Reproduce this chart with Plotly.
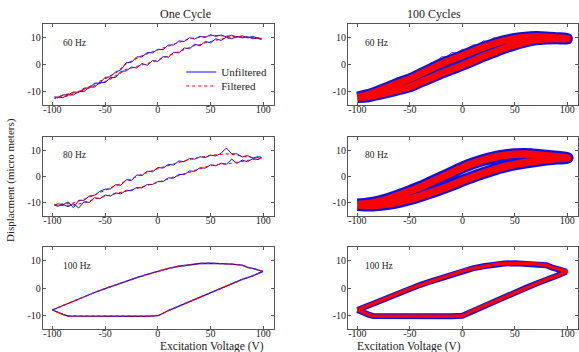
import plotly.graph_objects as go

# ---------------- data ----------------
X_GRID = [-98, -95, -90, -85, -80, -75, -70, -65, -60, -55, -50, -45, -40, -35, -30, -25, -20, -15, -10, -5,
          0, 5, 10, 15, 20, 25, 30, 35, 40, 45, 50, 55, 60, 65, 70, 75, 80, 85, 90, 95, 98]

# 60 Hz, one cycle
hz60_up_filt = [-12.3, -12.0, -11.6, -11.0, -10.6, -10.0, -9.2, -8.3, -7.3, -6.3, -5.3, -4.2, -3.2, -1.6, 0.3, 1.2,
                2.3, 3.2, 4.0, 4.7, 5.3, 6.0, 6.8, 7.6, 8.3, 8.9, 9.5, 9.8, 10.1, 10.4, 10.6, 10.7, 10.6, 10.5, 10.5,
                10.4, 10.3, 10.2, 10.1, 9.9, 9.6]
hz60_lo_filt = [-12.5, -12.3, -12.0, -11.6, -11.0, -10.4, -9.7, -8.9, -8.0, -7.1, -6.3, -5.4, -4.4, -3.1, -1.8,
                -1.4, -0.8, -0.2, 0.3, 0.9, 1.6, 2.4, 3.2, 4.0, 4.8, 5.6, 6.3, 7.0, 7.4, 8.0, 8.5, 9.0, 9.4, 9.7, 9.9,
                10.0, 10.1, 10.0, 9.8, 9.6, 9.4]
hz60_up_raw = [-12.0, -12.4, -11.3, -11.3, -10.2, -10.4, -8.8, -8.7, -7.0, -6.9, -4.8, -4.6, -2.8, -2.0, 0.6, 0.8,
               2.8, 2.8, 4.4, 4.3, 5.6, 5.5, 7.2, 7.2, 8.7, 8.5, 9.9, 9.4, 10.4, 10.0, 11.0, 10.4, 10.9, 10.2, 10.8,
               10.1, 10.6, 9.9, 10.4, 9.6, 9.7]
hz60_lo_raw = [-12.7, -12.1, -12.3, -11.3, -11.3, -10.0, -10.1, -8.4, -8.4, -6.6, -6.7, -4.9, -4.8, -2.6, -2.4, -1.0,
               -1.3, 0.3, -0.3, 1.4, 1.1, 2.9, 2.7, 4.5, 4.3, 6.1, 5.8, 7.5, 6.9, 8.5, 8.0, 9.5, 8.9, 10.1, 9.5, 10.4,
               9.8, 10.3, 9.5, 9.8, 9.2]

# 80 Hz, one cycle
hz80_up_filt = [-10.8, -10.6, -10.3, -10.1, -10.0, -9.4, -8.6, -7.8, -6.9, -6.1, -5.3, -4.4, -3.6, -2.7, -1.8, -0.9,
                0.0, 0.8, 1.6, 2.3, 3.0, 3.6, 4.2, 4.9, 5.5, 6.0, 6.5, 6.9, 7.3, 7.7, 8.0, 8.2, 8.5, 8.6, 8.4, 8.0,
                7.6, 7.4, 7.2, 7.2, 7.2]
hz80_lo_filt = [-10.8, -11.0, -11.0, -10.9, -10.8, -10.4, -10.0, -9.3, -8.5, -8.0, -7.5, -7.0, -6.6, -6.1, -5.6, -5.0,
                -4.5, -3.9, -3.3, -2.7, -2.2, -1.5, -0.8, -0.2, 0.5, 1.1, 1.8, 2.4, 3.0, 3.6, 4.2, 4.5, 4.7, 4.9, 5.0,
                5.4, 5.8, 6.2, 6.5, 6.8, 7.0]
hz80_up_raw = [-10.9, -10.3, -10.7, -9.6, -11.8, -9.0, -9.0, -7.4, -7.2, -5.6, -4.8, -4.7, -3.1, -3.3, -1.2, -1.5,
               0.6, 0.4, 2.0, 1.8, 3.4, 3.2, 4.6, 4.4, 5.9, 5.6, 6.8, 6.6, 7.5, 7.2, 8.1, 7.8, 8.8, 10.8, 8.6, 8.6,
               7.4, 8.0, 7.0, 7.5, 7.3]
hz80_lo_raw = [-10.7, -11.3, -10.6, -11.4, -10.3, -11.9, -9.6, -9.8, -8.0, -8.4, -7.0, -7.4, -6.2, -6.6, -5.2, -5.4,
               -4.1, -4.3, -3.0, -3.0, -1.9, -1.9, -0.5, -0.6, 0.8, 0.7, 2.1, 2.0, 3.3, 3.2, 4.4, 4.1, 5.0, 4.6, 6.6,
               5.0, 6.2, 5.6, 6.8, 6.4, 7.1]

# 100 Hz loop (one cycle and 100 cycles)
hz100_up_x = [-100, -90, -80, -70, -60, -50, -40, -30, -20, -10, 0, 10, 20, 30, 40, 50, 60, 70, 80, 85, 90, 95, 99]
hz100_up_y = [-8.0, -6.4, -4.7, -3.1, -1.6, -0.2, 1.2, 2.5, 3.8, 5.0, 6.2, 7.2, 8.0, 8.6, 9.0, 9.1, 9.0, 8.8, 8.4,
              7.6, 7.2, 6.8, 6.2]
hz100_lo_x = [99, 90, 80, 70, 60, 50, 40, 30, 20, 10, 5, 0, -10, -20, -30, -40, -50, -60, -70, -80, -85, -90, -95, -100]
hz100_lo_y = [6.0, 4.5, 3.2, 1.6, 0.0, -1.6, -3.2, -4.8, -6.5, -8.2, -9.2, -10.1, -10.3, -10.3, -10.4, -10.4, -10.4,
              -10.4, -10.4, -10.3, -10.2, -9.6, -8.9, -8.0]

# 100 cycles, 60 Hz and 80 Hz mean branches
X10 = [-100, -90, -80, -70, -60, -50, -40, -30, -20, -10, 0, 10, 20, 30, 40, 50, 60, 70, 80, 90, 100]
c60_up = [-12.1, -11.2, -9.8, -8.3, -6.7, -5.3, -3.4, -1.6, 0.3, 1.8, 3.3, 4.9, 6.4, 7.7, 8.8, 9.6, 10.1, 10.3,
          10.2, 9.9, 9.6]
c60_lo = [-12.3, -12.0, -11.2, -10.3, -9.3, -8.3, -6.6, -5.0, -3.3, -1.8, -0.3, 1.3, 3.0, 4.5, 6.0, 7.2, 8.3, 9.1,
          9.4, 9.5, 9.4]
c80_up = [-10.6, -10.2, -9.5, -8.4, -7.0, -5.5, -3.9, -2.1, -0.3, 1.6, 3.4, 5.0, 6.3, 7.3, 8.0, 8.4, 8.5, 8.3, 7.9,
          7.5, 7.1]
c80_lo = [-10.8, -11.0, -10.8, -10.3, -9.6, -8.6, -7.4, -6.1, -4.7, -3.2, -1.6, -0.1, 1.3, 2.6, 3.7, 4.6, 5.3, 5.9,
          6.4, 6.8, 7.0]

X_TICKS = [-100, -50, 0, 50, 100]
X_TICK_TEXT = ["-100", "-50", "0", "50", "100"]
Y_TICKS = [-10, 0, 10]
Y_TICK_TEXT = ["-10", "0", "10"]
FREQ_LABELS = ["60 Hz", "80 Hz", "100 Hz"]
COL_TITLES = ["One Cycle", "100 Cycles"]
X_TITLE = "Excitation Voltage (V)"
Y_TITLE = "Displacment (micro meters)"

BLUE = "#1010e0"
RED = "#ff0000"
FONT = "Liberation Serif"

fig = go.Figure()


def add(ax, xs, ys, color, width, dash="solid", name=None, show=False, smooth=False, legend="legend"):
    line = dict(color=color, width=width, dash=dash)
    if smooth:
        line.update(shape="spline", smoothing=0.6)
    fig.add_trace(go.Scatter(x=xs, y=ys, mode="lines", xaxis="x" + ax, yaxis="y" + ax, line=line,
                             name=name, showlegend=show, legend=legend, hoverinfo="skip"))


rx = X_GRID[::-1]
# one cycle
add("", X_GRID + rx, hz60_up_raw + hz60_lo_raw[::-1], BLUE, 1, name="Unfiltered", show=True, legend="legend")
add("", X_GRID + rx, hz60_up_filt + hz60_lo_filt[::-1], RED, 1.1, dash="dot", name="Filtered", show=True,
    legend="legend2")
add("3", X_GRID + rx, hz80_up_raw + hz80_lo_raw[::-1], BLUE, 1)
add("3", X_GRID + rx, hz80_up_filt + hz80_lo_filt[::-1], RED, 1.1, dash="dot")
add("5", hz100_up_x + hz100_lo_x, hz100_up_y + hz100_lo_y, BLUE, 1.3)
add("5", hz100_up_x + hz100_lo_x, hz100_up_y + hz100_lo_y, RED, 1.3, dash="dot")

# 100 cycles
add("2", X10 + X10[::-1], c60_up + c60_lo[::-1], BLUE, 11, smooth=True)
add("2", X_GRID + rx, hz60_up_raw + hz60_lo_raw[::-1], BLUE, 0.8)
add("2", X10 + X10[::-1], c60_up + c60_lo[::-1], RED, 7, smooth=True)
add("4", X10 + X10[::-1], c80_up + c80_lo[::-1], BLUE, 12, smooth=True)
add("4", X_GRID + rx, hz80_up_raw + hz80_lo_raw[::-1], BLUE, 0.8)
add("4", X10 + X10[::-1], c80_up + c80_lo[::-1], RED, 7.5, smooth=True)
add("6", hz100_up_x + hz100_lo_x, hz100_up_y + hz100_lo_y, BLUE, 6)
add("6", hz100_up_x + hz100_lo_x, hz100_up_y + hz100_lo_y, RED, 3.5)

rows = [[0.702, 0.932], [0.386, 0.611], [0.065, 0.298]]
cols = [[0.074, 0.473], [0.601, 0.998]]
leg_common = dict(xanchor="left", yanchor="middle", bgcolor="rgba(0,0,0,0)",
                  font=dict(family=FONT, size=11, color="#222"), itemwidth=30)
layout = dict(
    width=579, height=352, margin=dict(l=0, r=0, t=0, b=0, autoexpand=False),
    paper_bgcolor="white", plot_bgcolor="white",
    font=dict(family=FONT, size=10, color="#222"),
    legend=dict(x=0.313, y=1 - 72 / 352, **leg_common),
    legend2=dict(x=0.313, y=1 - 86 / 352, **leg_common),
)
annotations = []
k = 0
for r in range(3):
    for c in range(2):
        k += 1
        suf = "" if k == 1 else str(k)
        common = dict(showline=True, linecolor="#555", linewidth=1, mirror="allticks", ticks="inside",
                      ticklen=3, tickcolor="#555", showgrid=False, zeroline=False, automargin=False,
                      tickfont=dict(size=10, family=FONT, color="#222"))
        layout["xaxis" + suf] = dict(domain=cols[c], range=[-109, 110], anchor="y" + suf, tickvals=X_TICKS,
                                     ticktext=X_TICK_TEXT, ticklabelstandoff=-5, **common)
        layout["yaxis" + suf] = dict(domain=rows[r], range=[-15, 15], anchor="x" + suf, tickvals=Y_TICKS,
                                     ticktext=Y_TICK_TEXT, ticklabelstandoff=-1, **common)
        annotations.append(dict(text=FREQ_LABELS[r], x=-92 if c == 0 else -95, y=8, xref="x" + suf,
                                yref="y" + suf, xanchor="left", yanchor="middle", showarrow=False,
                                font=dict(size=9.5, family=FONT, color="#222")))
for c in range(2):
    mid = (cols[c][0] + cols[c][1]) / 2
    annotations.append(dict(text=COL_TITLES[c], x=mid, y=1 - 14 / 352, xref="paper", yref="paper",
                            yanchor="middle", showarrow=False, font=dict(size=12, family=FONT, color="#222")))
    annotations.append(dict(text=X_TITLE, x=mid, y=1 - 346 / 352, xref="paper", yref="paper",
                            yanchor="middle", showarrow=False, font=dict(size=11.5, family=FONT, color="#222")))
annotations.append(dict(text=Y_TITLE, x=10 / 579, y=1 - 180 / 352, xref="paper", yref="paper", textangle=-90,
                        xanchor="center", yanchor="middle", showarrow=False,
                        font=dict(size=11, family=FONT, color="#222")))
layout["annotations"] = annotations
fig.update_layout(**layout)
fig.write_html("out.html", config={"displayModeBar": False},
               post_script="document.body.style.margin='0';document.body.style.overflow='hidden';")
